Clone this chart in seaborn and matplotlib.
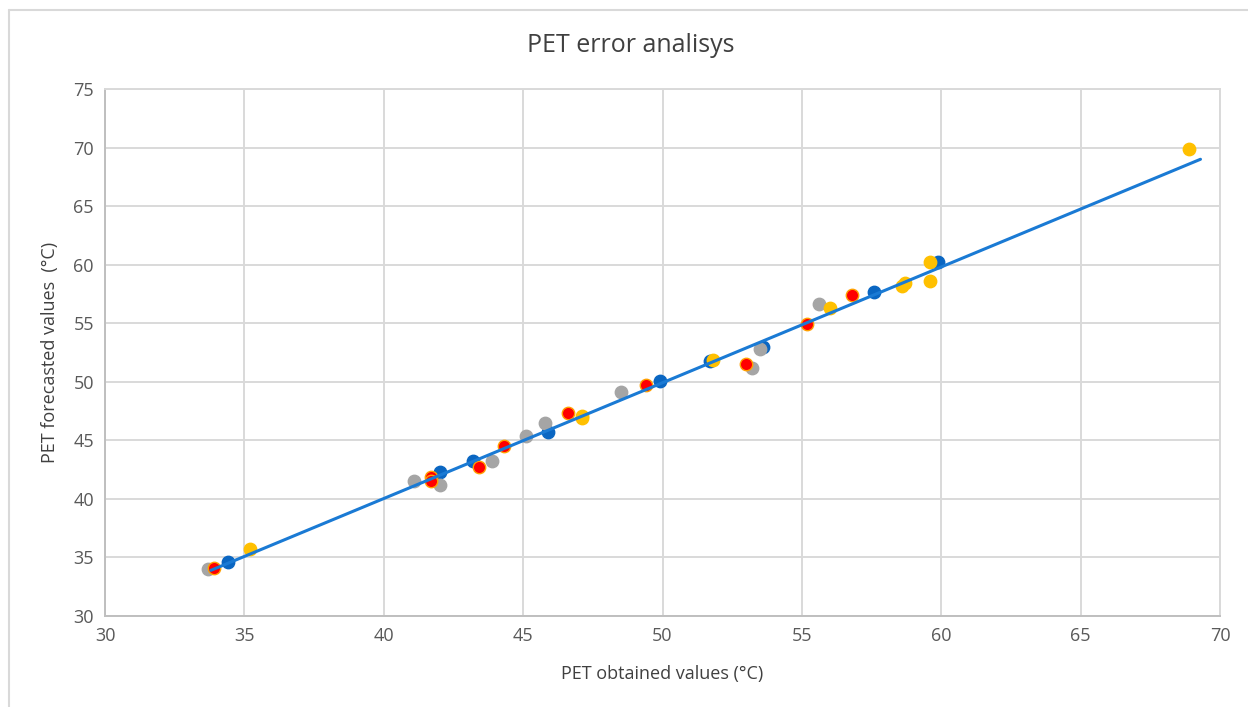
import matplotlib
matplotlib.use("Agg")
import matplotlib.pyplot as plt
import pandas as pd
import seaborn as sns
from matplotlib.lines import Line2D

# Data (PET obtained vs forecasted, four series)
blue_x = [34.4, 42.0, 43.2, 45.9, 49.9, 51.7, 53.6, 57.6, 59.9]
blue_y = [34.6, 42.3, 43.2, 45.7, 50.1, 51.8, 53.0, 57.7, 60.2]

gray_x = [33.7, 41.1, 42.0, 43.9, 45.1, 45.8, 48.5, 53.2, 53.5, 55.6]
gray_y = [34.0, 41.5, 41.2, 43.2, 45.4, 46.5, 49.1, 51.2, 52.8, 56.6]

red_x = [33.9, 41.7, 41.7, 43.4, 44.3, 46.6, 49.4, 53.0, 55.2, 56.8]
red_y = [34.1, 41.9, 41.5, 42.7, 44.5, 47.3, 49.7, 51.5, 54.9, 57.4]

yellow_x = [35.2, 47.1, 47.1, 51.8, 56.0, 58.6, 58.7, 59.6, 59.6, 68.9]
yellow_y = [35.7, 47.1, 46.9, 51.9, 56.3, 58.2, 58.4, 60.2, 58.6, 69.9]

# trendline end points
trend_x = [33.8, 69.3]
trend_y = [33.9, 69.0]

series = ["S1", "S2", "S3", "S4"]
colors = {"S1": "#0a66c2", "S2": "#a5a5a5", "S3": "#ff0000", "S4": "#ffc000"}
edges = {"S1": "#0a66c2", "S2": "#a5a5a5", "S3": "#ffa000", "S4": "#ffc000"}

df = pd.concat([
    pd.DataFrame({"obtained": blue_x, "forecast": blue_y, "serie": "S1"}),
    pd.DataFrame({"obtained": gray_x, "forecast": gray_y, "serie": "S2"}),
    pd.DataFrame({"obtained": red_x, "forecast": red_y, "serie": "S3"}),
    pd.DataFrame({"obtained": yellow_x, "forecast": yellow_y, "serie": "S4"}),
])

sns.set_style("white")
plt.rcParams["font.family"] = ["Open Sans", "DejaVu Sans"]

fig = plt.figure(figsize=(12.48, 7.07), dpi=100)
ax = fig.add_axes([105 / 1248, 1 - 616 / 707, 1115 / 1248, 527 / 707])

for s in series:
    sub = df[df["serie"] == s]
    sns.scatterplot(data=sub, x="obtained", y="forecast", ax=ax, s=80,
                    color=colors[s], edgecolor=edges[s], linewidth=1.0,
                    zorder=3, legend=False)

sns.lineplot(x=trend_x, y=trend_y, ax=ax, color="#1a7ad4", linewidth=2.2,
             zorder=4)

ax.set_xlim(30, 70)
ax.set_ylim(30, 75)
ax.set_xticks(range(30, 71, 5))
ax.set_yticks(range(30, 76, 5))
ax.grid(True, color="#d9d9d9", linewidth=1.4)
ax.set_axisbelow(True)
for sp in ax.spines.values():
    sp.set_color("#d9d9d9")
    sp.set_linewidth(1.4)
ax.spines["bottom"].set_color("#bfbfbf")
ax.spines["left"].set_color("#bfbfbf")
ax.tick_params(axis="both", length=0, labelsize=13, labelcolor="#595959", pad=8)

ax.set_xlabel("PET obtained values (°C)", fontsize=13, color="#404040", labelpad=14)
ax.set_ylabel("PET forecasted values  (°C)", fontsize=13, color="#404040", labelpad=10)
fig.text(631 / 1248, 1 - 46 / 707, "PET error analisys", ha="center", va="center",
         fontsize=18, color="#404040")

# chart frame
fig.add_artist(Line2D([9 / 1248, 9 / 1248], [0, 1 - 10 / 707],
                      transform=fig.transFigure, color="#d9d9d9", linewidth=1.5))
fig.add_artist(Line2D([9 / 1248, 1], [1 - 10 / 707, 1 - 10 / 707],
                      transform=fig.transFigure, color="#d9d9d9", linewidth=1.5))

fig.savefig("out.png", dpi=100)
